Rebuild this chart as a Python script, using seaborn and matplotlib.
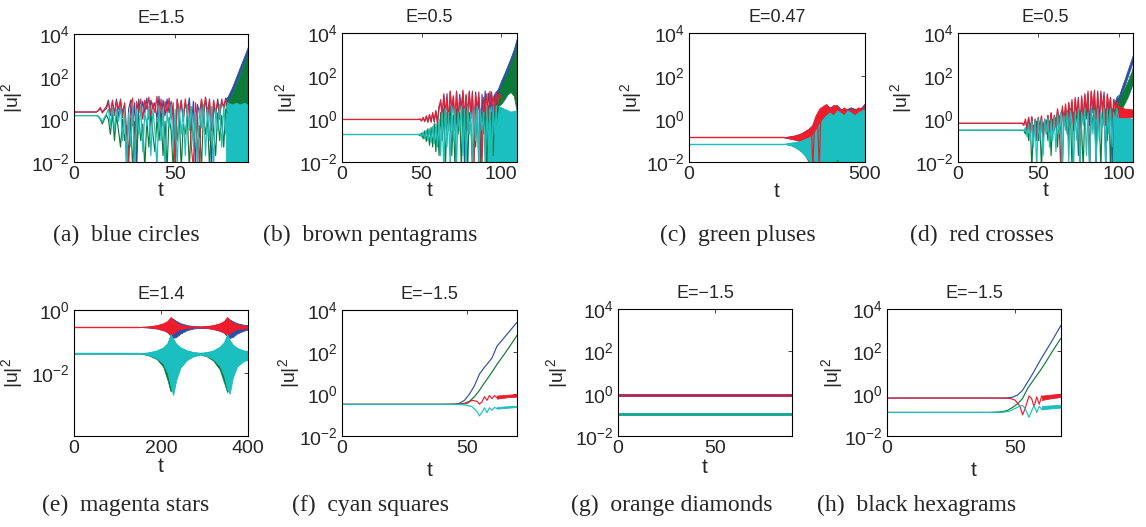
import matplotlib
matplotlib.use("Agg")
import matplotlib.pyplot as plt
from matplotlib.ticker import NullLocator
import seaborn as sns

# ---------------------------------------------------------------- data
# (a) E=1.5
a_t = [0, 11, 12, 13, 14, 15, 16, *range(17, 77)]
a_red = [2.2, 2.2, 2.6, 3.6, 2.0, 2.6, 3.2,
         6, 2, 8, 1.5, 7, 3, 9, 1.2, 6, 0.3, 0.005, 5, 10, 0.005, 7, 2, 9, 1, 8, 3,
         11, 1.5, 6, 2, 12, 1, 9, 0.5, 7, 2, 10, 1, 6, 0.005, 8, 2, 7, 0.8, 9, 1.5,
         5, 0.05, 0.005, 6, 1, 0.005, 9, 2, 10, 1, 7, 0.3, 8, 2, 6, 1, 9, 3, 8, 5]
a_blue = [2.2, 2.2, 2.5, 3.2, 2.2, 3.0, 4.0,
          8, 1.5, 6, 2, 9, 1.2, 7, 2, 5, 0.005, 3, 8, 0.5, 6, 0.005, 9, 1.5, 7, 2, 10,
          1, 8, 3, 6, 1, 12, 0.8, 8, 1.5, 9, 2, 7, 1, 0.01, 9, 1.5, 8, 1, 6, 2,
          10, 0.5, 7, 0.005, 5, 2, 8, 1, 11, 2, 9, 0.005, 6, 1.5, 9, 2, 7, 4, 10, 8]
a_green = [1.5, 1.5, 1.4, 1.0, 0.6, 1.0, 1.6,
           1, 0.2, 2, 0.1, 1.5, 0.3, 0.05, 1, 0.1, 0.5, 0.02, 1.2, 0.005, 0.8, 0.03,
           1.5, 0.1, 0.6, 0.005, 1, 0.05, 2, 0.2, 0.03, 1, 0.1, 1.5, 0.02, 0.8, 0.005,
           1.2, 0.3, 0.005, 1, 0.1, 2, 0.005, 0.6, 0.2, 1.5, 0.005, 0.8, 0.1, 1.2, 0.03,
           0.5, 0.005, 2, 0.2, 1, 0.005, 1.5, 0.3, 0.02, 2, 0.1, 1.5, 0.05, 3, 2]
a_cyan = [1.5, 1.5, 1.4, 1.1, 0.8, 1.2, 1.8,
          3, 0.5, 4, 0.3, 3, 0.8, 4, 0.1, 3, 0.005, 2, 0.05, 4, 0.005, 3, 0.2, 5, 0.03,
          2, 0.5, 4, 0.02, 3, 0.3, 0.005, 4, 0.1, 3, 0.005, 2, 0.4, 5, 0.05, 3, 0.005,
          4, 0.2, 3, 0.02, 5, 0.3, 4, 0.05, 2, 0.005, 3, 0.4, 5, 0.02, 3, 0.1, 4, 0.005,
          3, 0.3, 5, 0.05, 4, 0.2, 6]
a_band_t = [75, 76, 78, 80, 82, 84, 86]
a_blue_hi = [9, 12, 30, 90, 280, 830, 2600]
a_blue_lo = [4, 6, 15, 45, 140, 420, 1300]
a_green_hi = [5, 8, 14, 40, 120, 400, 1300]
a_green_lo = [2, 3, 3, 3.5, 3.5, 3.5, 3.5]
a_cyan_hi = [4, 6, 5, 6, 5, 6, 5]
a_cyan_lo = [0.005, 0.005, 0.005, 0.005, 0.005, 0.005, 0.005]

# (b) E=0.5
b_t = [0, 48, *range(49, 101)]
b_red = [0.95, 0.95,
         1.0, 0.8, 1.2, 0.75, 1.4, 0.8, 1.6, 0.7, 2, 0.9, 2.5, 0.6, 3,
         8, 1, 15, 2, 10, 0.8, 20, 3, 12, 1, 18, 0.5, 9, 2, 22, 1.5, 14, 0.3, 16, 2,
         20, 0.005, 12, 3, 18, 1, 0.005, 10, 2, 15, 1, 20, 4, 12, 2, 18, 5, 15, 10]
b_blue = [0.95, 0.95,
          1.0, 0.85, 1.1, 0.8, 1.3, 0.7, 1.5, 0.8, 1.8, 0.7, 2.2, 0.8, 4,
          6, 2, 12, 1, 15, 0.5, 18, 2, 10, 0.3, 20, 1, 14, 3, 18, 0.005, 12, 2, 20, 1,
          15, 0.5, 18, 2, 10, 0.005, 14, 1, 20, 0.8, 16, 3, 18, 1, 14, 6, 20, 12, 16]
b_green = [0.19, 0.19,
           0.17, 0.22, 0.12, 0.28, 0.09, 0.35, 0.06, 0.4, 0.05, 0.6, 0.03, 0.8, 0.02,
           2, 0.1, 3, 0.005, 2, 0.3, 4, 0.02, 1.5, 0.005, 3, 0.2, 2, 0.005, 4, 0.1, 3,
           0.005, 2, 0.5, 0.005, 3, 0.05, 4, 0.005, 0.005, 2, 0.2, 3, 0.005, 4, 0.3, 2,
           0.02, 3, 0.5, 4, 2, 3]
b_cyan = [0.19, 0.19,
          0.2, 0.15, 0.25, 0.12, 0.3, 0.1, 0.35, 0.08, 0.45, 0.07, 0.6, 0.05, 1,
          0.02, 2, 0.005, 3, 0.05, 2, 0.005, 4, 0.1, 3, 0.005, 2, 0.3, 4, 0.02, 3, 0.005,
          4, 0.2, 2, 0.005, 3, 0.1, 4, 0.01, 3, 0.3, 2, 0.005, 4, 0.05, 3, 0.005, 4,
          0.2, 3, 0.005, 4, 2]
b_band_t = [96, 98, 100, 102, 104, 106, 108, 110]
b_blue_hi = [16, 25, 60, 130, 300, 700, 1800, 6000]
b_blue_lo = [8, 12, 30, 65, 150, 350, 900, 3000]
b_green_hi = [12, 18, 30, 70, 150, 350, 900, 3000]
b_green_lo = [3, 4, 5, 8, 14, 18, 12, 2]
b_cyan_t = [90, 94, 98, 102, 106, 110]
b_cyan_hi = [4, 5, 4, 3, 2.2, 2.6]
b_cyan_lo = [0.005, 0.005, 0.005, 0.005, 0.005, 0.005]

# (c) E=0.47
c_line_t = [0, 270]
c_red_line = [0.14, 0.14]
c_cyan_line = [0.07, 0.07]
c_band_t = [270, 280, 290, 300, 310, 320, 330, 340, 350, 360, 370, 380,
            390, 400, 410, 420, 430, 440, 450, 460, 470, 480, 490, 500]
c_blue_hi = [0.14, 0.15, 0.16, 0.17, 0.19, 0.22, 0.28, 0.35, 0.5, 1.4, 2.8, 3.5,
             4.5, 3.5, 4, 4.5, 3, 3, 3, 3.5, 3, 3, 3.5, 5.5]
c_blue_lo = [0.14, 0.13, 0.12, 0.11, 0.1, 0.08, 0.06, 0.04, 0.03, 0.08, 0.2, 0.4,
             0.5, 0.3, 0.5, 0.4, 0.5, 0.4, 0.5, 0.3, 0.5, 0.4, 0.5, 0.4]
c_red_hi = [0.14, 0.15, 0.16, 0.17, 0.19, 0.22, 0.28, 0.35, 0.5, 1.5, 3, 4,
            5, 3, 4.5, 4, 2.5, 3.5, 2.5, 3, 2.5, 3.5, 3, 4.5]
c_red_lo = [0.14, 0.13, 0.12, 0.11, 0.10, 0.08, 0.06, 0.04, 0.03, 0.1, 0.3, 0.5,
            0.6, 0.4, 0.6, 0.5, 0.7, 0.5, 0.6, 0.4, 0.6, 0.5, 0.7, 0.5]
c_green_hi = [0.07, 0.072, 0.077, 0.08, 0.085, 0.09, 0.11, 0.13, 0.15, 0.25, 0.5, 0.8,
              1.2, 1.5, 1.2, 2, 1.5, 1.2, 2, 1.5, 1.2, 1.5, 2, 2.5]
c_green_lo = [0.07, 0.066, 0.06, 0.05, 0.04, 0.03, 0.02, 0.01, 0.005, 0.005, 0.005, 0.005,
              0.005, 0.005, 0.005, 0.005, 0.005, 0.005, 0.005, 0.005, 0.005, 0.005, 0.005, 0.005]
c_cyan_hi = [0.07, 0.075, 0.08, 0.085, 0.09, 0.1, 0.12, 0.14, 0.17, 0.3, 0.6, 1,
             1.5, 2, 1.5, 2.5, 2, 1.5, 2.5, 2, 1.5, 2, 2.5, 3]
c_cyan_lo = [0.07, 0.065, 0.06, 0.05, 0.04, 0.03, 0.02, 0.012, 0.005, 0.005, 0.005, 0.008,
             0.005, 0.01, 0.005, 0.015, 0.008, 0.005, 0.012, 0.005, 0.01, 0.005, 0.012, 0.006]
c_spike_t = [348, 352, 356, 366, 370, 374]
c_red_spike = [0.3, 0.005, 0.4, 0.5, 0.005, 0.8]

# (d) E=0.5
d_t = [0, 40, *range(41, 101)]
d_red = [0.63, 0.63,
         0.5, 1.0, 0.3, 1.2, 0.2, 1.3, 0.15, 1.0, 0.1, 1.2, 0.3, 1.4, 0.1, 1.0, 0.2, 1.5, 0.3, 2, 0.2, 1.5,
         0.4, 3, 0.5, 0.005, 4, 0.8, 5, 0.3, 6, 1, 8, 0.5, 10, 1.5, 8, 0.005, 12, 1, 15, 2,
         20, 0.005, 18, 3, 22, 1, 15, 0.3, 20, 2, 12, 0.5, 15, 3, 10, 1, 8, 3, 6, 5]
d_blue = [0.63, 0.63,
          0.6, 0.8, 0.4, 1.1, 0.3, 1.2, 0.2, 0.9, 0.15, 1.1, 0.4, 1.3, 0.15, 0.9, 0.3, 1.4, 0.4, 1.8, 0.3, 1.4,
          0.5, 2.5, 0.7, 1.5, 3, 0.5, 4, 0.2, 5, 0.8, 6, 0.3, 8, 1, 10, 0.4, 10, 0.8, 12, 1.5,
          15, 0.5, 20, 2, 18, 0.005, 20, 1, 15, 3, 18, 0.005, 12, 2, 10, 0.005, 8, 4, 10, 12]
d_green = [0.3, 0.3,
           0.3, 0.2, 0.5, 0.1, 0.6, 0.005, 0.5, 0.2, 0.8, 0.1, 0.6, 0.005, 0.7, 0.3, 0.9, 0.1, 0.8, 0.02, 1, 0.3,
           1.2, 0.05, 1.5, 0.3, 0.005, 2, 0.5, 2.5, 0.1, 3, 0.005, 2, 0.5, 3, 0.02, 2.5, 0.3, 0.005, 3, 1,
           4, 0.005, 3, 0.5, 4, 0.02, 3, 1, 0.005, 4, 0.5, 3, 0.1, 4, 0.005, 3, 1, 4, 2, 3]
d_cyan = [0.3, 0.3,
          0.28, 0.4, 0.15, 0.6, 0.1, 0.8, 0.05, 0.9, 0.005, 1.0, 0.1, 0.9, 0.02, 1.0, 0.2, 1.1, 0.05, 0.9, 0.1, 1.2,
          0.03, 1.5, 0.2, 2, 0.005, 1.5, 0.3, 2, 0.01, 2.5, 0.5, 0.005, 2, 0.1, 3, 0.005, 2, 0.5, 3, 0.02,
          2, 0.005, 3, 0.2, 2.5, 0.005, 3, 0.1, 2, 0.4, 3, 0.005, 2.5, 0.2, 3, 0.05, 2, 0.5, 3, 1]
d_band_t = [98, 100, 102, 104, 106, 108, 109]
d_blue_hi = [8, 11, 30, 80, 220, 600, 1000]
d_blue_lo = [4, 6, 15, 40, 110, 300, 500]
d_green_hi = [5, 8, 14, 30, 65, 150, 280]
d_green_lo = [2, 2, 3, 6, 12, 30, 50]
d_red_hi = [5, 4, 3.5, 3, 3, 2.8, 2.8]
d_red_lo = [1.5, 1.2, 1.2, 1.2, 1.2, 1.2, 1.2]
d_cyan_t = [96, 98, 100, 102, 104, 106, 108, 109]
d_cyan_hi = [3, 3, 2.5, 2.2, 1.5, 1.2, 1.0, 1.0]
d_cyan_lo = [0.005, 0.005, 0.005, 0.005, 0.005, 0.005, 0.005, 0.005]

# (e) E=1.4
e_line_t = [0, 150]
e_red_line = [0.29, 0.29]
e_cyan_line = [0.042, 0.042]
e_band_t = [0, 150, 170, 190, 205, 215, 222, 228, 235, 245, 260, 275,
            290, 305, 320, 335, 345, 352, 358, 365, 375, 390, 400]
e_blue_hi = [0.29, 0.29, 0.30, 0.32, 0.36, 0.42, 0.55, 0.52, 0.45, 0.38, 0.33, 0.31,
             0.30, 0.31, 0.32, 0.36, 0.42, 0.55, 0.5, 0.44, 0.38, 0.34, 0.33]
e_blue_lo = [0.29, 0.29, 0.28, 0.26, 0.23, 0.2, 0.15, 0.13, 0.14, 0.18, 0.23, 0.26,
             0.27, 0.27, 0.25, 0.22, 0.19, 0.15, 0.13, 0.14, 0.18, 0.22, 0.24]
e_red_hi = [0.29, 0.29, 0.30, 0.33, 0.38, 0.45, 0.6, 0.5, 0.4, 0.34, 0.31, 0.30,
            0.30, 0.31, 0.33, 0.38, 0.45, 0.6, 0.48, 0.4, 0.35, 0.32, 0.32]
e_red_lo = [0.29, 0.29, 0.28, 0.26, 0.23, 0.2, 0.16, 0.18, 0.22, 0.25, 0.27, 0.28,
            0.28, 0.27, 0.25, 0.22, 0.19, 0.16, 0.18, 0.22, 0.25, 0.26, 0.26]
e_green_hi = [0.042, 0.042, 0.044, 0.05, 0.062, 0.085, 0.15, 0.11, 0.08, 0.062, 0.05, 0.045,
              0.043, 0.045, 0.05, 0.065, 0.09, 0.15, 0.1, 0.075, 0.06, 0.05, 0.048]
e_green_lo = [0.042, 0.042, 0.037, 0.028, 0.016, 0.006, 0.0026, 0.005, 0.01, 0.02, 0.03, 0.036,
              0.039, 0.034, 0.025, 0.013, 0.005, 0.0025, 0.005, 0.012, 0.02, 0.027, 0.03]
e_cyan_hi = [0.042, 0.042, 0.045, 0.052, 0.065, 0.09, 0.17, 0.12, 0.085, 0.065, 0.052, 0.046,
             0.044, 0.046, 0.052, 0.068, 0.095, 0.17, 0.11, 0.08, 0.062, 0.052, 0.05]
e_cyan_lo = [0.042, 0.042, 0.038, 0.03, 0.02, 0.01, 0.004, 0.002, 0.006, 0.015, 0.026, 0.034,
             0.038, 0.035, 0.028, 0.017, 0.008, 0.003, 0.0022, 0.007, 0.016, 0.024, 0.026]

# (f) E=-1.5
f_t = [0, 40, 45, 47, 49, 51, 53, 55, 56, 57, 58, 59, 60, 62, 64, 66, 68, 70]
f_blue = [0.32, 0.32, 0.33, 0.36, 0.5, 1.0, 2.5, 9, 13, 19, 26, 37, 52, 190, 360, 700, 1350, 2600]
f_green = [0.32, 0.32, 0.32, 0.33, 0.36, 0.45, 0.75, 1.5, 2.3, 3.4, 5, 7.5, 11, 26, 55, 120, 270, 620]
f_osc_t = [0, 45, 48, 50, 52, 54, 55, 56, 57, 58, 59, 60, 61, 62]
f_red = [0.32, 0.32, 0.33, 0.36, 0.5, 0.45, 0.33, 0.42, 0.75, 0.5, 0.85, 0.6, 0.85, 0.65]
f_cyan = [0.32, 0.32, 0.31, 0.29, 0.25, 0.15, 0.09, 0.14, 0.22, 0.13, 0.22, 0.17, 0.23, 0.2]
f_band_t = [62, 64, 66, 68, 70]
f_red_hi = [0.85, 0.88, 0.92, 0.95, 1.0]
f_red_lo = [0.6, 0.65, 0.7, 0.72, 0.75]
f_cyan_hi = [0.24, 0.25, 0.26, 0.27, 0.27]
f_cyan_lo = [0.2, 0.21, 0.22, 0.23, 0.24]

# (g) E=-1.5
g_t = [0, 90]
g_blue = [0.83, 0.83]
g_red = [0.83, 0.83]
g_green = [0.105, 0.105]
g_cyan = [0.105, 0.105]

# (h) E=-1.5
h_t = [0, 40, 45, 47, 49, 51, 53, 55, 57, 60, 62, 64, 66, 68]
h_blue = [0.62, 0.62, 0.62, 0.63, 0.68, 0.85, 1.45, 3.6, 9, 40, 100, 250, 650, 1700]
h_green = [0.13, 0.13, 0.14, 0.16, 0.22, 0.33, 0.6, 1.8, 4, 13, 30, 75, 180, 420]
h_osc_t = [0, 45, 48, 50, 52, 53, 54, 55.5, 56.5, 57.5, 58.5, 59.5, 60.5]
h_red = [0.62, 0.62, 0.6, 0.5, 0.25, 0.1, 0.2, 0.78, 0.6, 0.24, 0.7, 0.32, 0.8]
h_cyan = [0.13, 0.13, 0.15, 0.2, 0.26, 0.28, 0.2, 0.077, 0.15, 0.28, 0.13, 0.25, 0.18]
h_band_t = [60.5, 62, 64, 66, 68]
h_red_hi = [0.8, 0.85, 0.9, 0.95, 1.0]
h_red_lo = [0.5, 0.55, 0.6, 0.65, 0.7]
h_cyan_hi = [0.26, 0.27, 0.28, 0.29, 0.3]
h_cyan_lo = [0.18, 0.19, 0.2, 0.21, 0.22]

titles = ["E=1.5", "E=0.5", "E=0.47", "E=0.5",
          "E=1.4", "E=\u22121.5", "E=\u22121.5", "E=\u22121.5"]
captions = ["(a)  blue circles", "(b)  brown pentagrams", "(c)  green pluses",
            "(d)  red crosses", "(e)  magenta stars", "(f)  cyan squares",
            "(g)  orange diamonds", "(h)  black hexagrams"]

# ---------------------------------------------------------------- style
sns.set_style("white")
plt.rcParams["font.family"] = ["Liberation Sans", "DejaVu Sans"]
plt.rcParams["mathtext.fontset"] = "custom"
plt.rcParams["mathtext.rm"] = "Liberation Sans"
plt.rcParams["mathtext.it"] = "Liberation Sans:italic"

BLUE = "#2d4fa5"
GREEN = "#0c7b3a"
RED = "#ee1d2b"
CYAN = "#1bbfbf"

W, H = 1146, 527
fig = plt.figure(figsize=(W / 100, H / 100), dpi=100)
fig.patch.set_facecolor("white")

# axes boxes in pixels: left, top, right, bottom
boxes = [(74, 34, 248, 162), (342, 33, 517, 162), (689, 33, 865, 162), (958, 33, 1133, 162),
         (74, 310, 248, 436), (342, 310, 517, 436), (618, 309, 792, 436), (887, 309, 1061, 436)]
ylab_x = [-0.282, -0.246, -0.256, -0.251, -0.282, -0.229, -0.276, -0.241]
xlab_y = [-0.15, -0.15, -0.155, -0.15, -0.165, -0.2, -0.17, -0.2]
xlims = [(0, 86), (0, 110), (0, 500), (0, 109), (0, 400), (0, 70), (0, 90), (0, 68)]
xticks = [[0, 50], [0, 50, 100], [0, 500], [0, 50, 100], [0, 200, 400], [0, 50], [0, 50], [0, 50]]
cap_pos = [(126, 235), (370, 235), (738, 235), (982, 235),
           (126, 505), (371, 505), (672, 505), (917, 505)]

axes = []
for i, (l, t, r, b) in enumerate(boxes):
    ax = fig.add_axes([l / W, 1 - b / H, (r - l) / W, (b - t) / H])
    ax.set_yscale("log")
    ax.set_xlim(*xlims[i])
    if i == 4:
        ax.set_ylim(1e-4, 1)
        ax.set_yticks([1e-2, 1])
    else:
        ax.set_ylim(1e-2, 1e4)
        ax.set_yticks([1e-2, 1, 1e2, 1e4])
    ax.set_xticks(xticks[i])
    ax.yaxis.set_minor_locator(NullLocator())
    ax.set_title(titles[i], fontsize=13, pad=8)
    ax.set_ylabel(r"$\mathdefault{|u|^{2}}$", fontsize=14)
    ax.yaxis.set_label_coords(ylab_x[i], 0.5)
    ax.set_xlabel("t", fontsize=15, va="top")
    ax.xaxis.set_label_coords(0.5, xlab_y[i])
    ax.tick_params(direction="in", length=3, width=0.6, top=True, right=True,
                   labelsize=14, pad=3)
    for s in ax.spines.values():
        s.set_linewidth(0.8)
        s.set_color("black")
    ax.set_facecolor("white")
    axes.append(ax)
    fig.text(cap_pos[i][0] / W, 1 - cap_pos[i][1] / H, captions[i], ha="center",
             va="center", fontsize=17, family=["Liberation Serif", "DejaVu Serif"])


def line(ax, t, v, color, lw=0.85, alpha=1.0):
    sns.lineplot(x=t, y=v, ax=ax, color=color, linewidth=lw, alpha=alpha,
                 estimator=None, sort=False, legend=False)


def band(ax, t, lo, hi, color):
    ax.fill_between(t, lo, hi, color=color, linewidth=0.6)


# (a)
ax = axes[0]
line(ax, a_t, a_blue, BLUE); line(ax, a_t, a_green, GREEN)
line(ax, a_t, a_red, RED); line(ax, a_t, a_cyan, CYAN)
band(ax, a_band_t, a_blue_lo, a_blue_hi, BLUE)
band(ax, a_band_t, a_green_lo, a_green_hi, GREEN)
band(ax, a_band_t, a_cyan_lo, a_cyan_hi, CYAN)

# (b)
ax = axes[1]
line(ax, b_t, b_blue, BLUE); line(ax, b_t, b_green, GREEN)
line(ax, b_t, b_red, RED); line(ax, b_t, b_cyan, CYAN)
band(ax, b_band_t, b_blue_lo, b_blue_hi, BLUE)
band(ax, b_band_t, b_green_lo, b_green_hi, GREEN)
band(ax, b_cyan_t, b_cyan_lo, b_cyan_hi, CYAN)

# (c)
ax = axes[2]
line(ax, c_line_t, c_red_line, RED, lw=1.0); line(ax, c_line_t, c_cyan_line, CYAN, lw=1.0)
band(ax, c_band_t, c_blue_lo, c_blue_hi, BLUE)
band(ax, c_band_t, c_green_lo, c_green_hi, GREEN)
band(ax, c_band_t, c_red_lo, c_red_hi, RED)
band(ax, c_band_t, c_cyan_lo, c_cyan_hi, CYAN)
line(ax, c_spike_t, c_red_spike, RED)

# (d)
ax = axes[3]
line(ax, d_t, d_blue, BLUE); line(ax, d_t, d_green, GREEN)
line(ax, d_t, d_red, RED); line(ax, d_t, d_cyan, CYAN)
band(ax, d_band_t, d_blue_lo, d_blue_hi, BLUE)
band(ax, d_band_t, d_green_lo, d_green_hi, GREEN)
band(ax, d_cyan_t, d_cyan_lo, d_cyan_hi, CYAN)
band(ax, d_band_t, d_red_lo, d_red_hi, RED)

# (e)
ax = axes[4]
line(ax, e_line_t, e_red_line, RED, lw=1.0); line(ax, e_line_t, e_cyan_line, CYAN, lw=1.0)
band(ax, e_band_t, e_blue_lo, e_blue_hi, BLUE)
band(ax, e_band_t, e_red_lo, e_red_hi, RED)
band(ax, e_band_t, e_green_lo, e_green_hi, GREEN)
band(ax, e_band_t, e_cyan_lo, e_cyan_hi, CYAN)

# (f)
ax = axes[5]
line(ax, f_t, f_blue, BLUE); line(ax, f_t, f_green, GREEN)
line(ax, f_osc_t, f_red, RED); line(ax, f_osc_t, f_cyan, CYAN)
band(ax, f_band_t, f_red_lo, f_red_hi, RED)
band(ax, f_band_t, f_cyan_lo, f_cyan_hi, CYAN)

# (g)
ax = axes[6]
line(ax, g_t, g_blue, BLUE, lw=2.0); line(ax, g_t, g_red, RED, lw=2.0, alpha=0.7)
line(ax, g_t, g_green, GREEN, lw=2.0); line(ax, g_t, g_cyan, CYAN, lw=2.0, alpha=0.7)

# (h)
ax = axes[7]
line(ax, h_t, h_blue, BLUE); line(ax, h_t, h_green, GREEN)
line(ax, h_osc_t, h_red, RED); line(ax, h_osc_t, h_cyan, CYAN)
band(ax, h_band_t, h_red_lo, h_red_hi, RED)
band(ax, h_band_t, h_cyan_lo, h_cyan_hi, CYAN)

fig.savefig("out.png", dpi=100, facecolor="white")
